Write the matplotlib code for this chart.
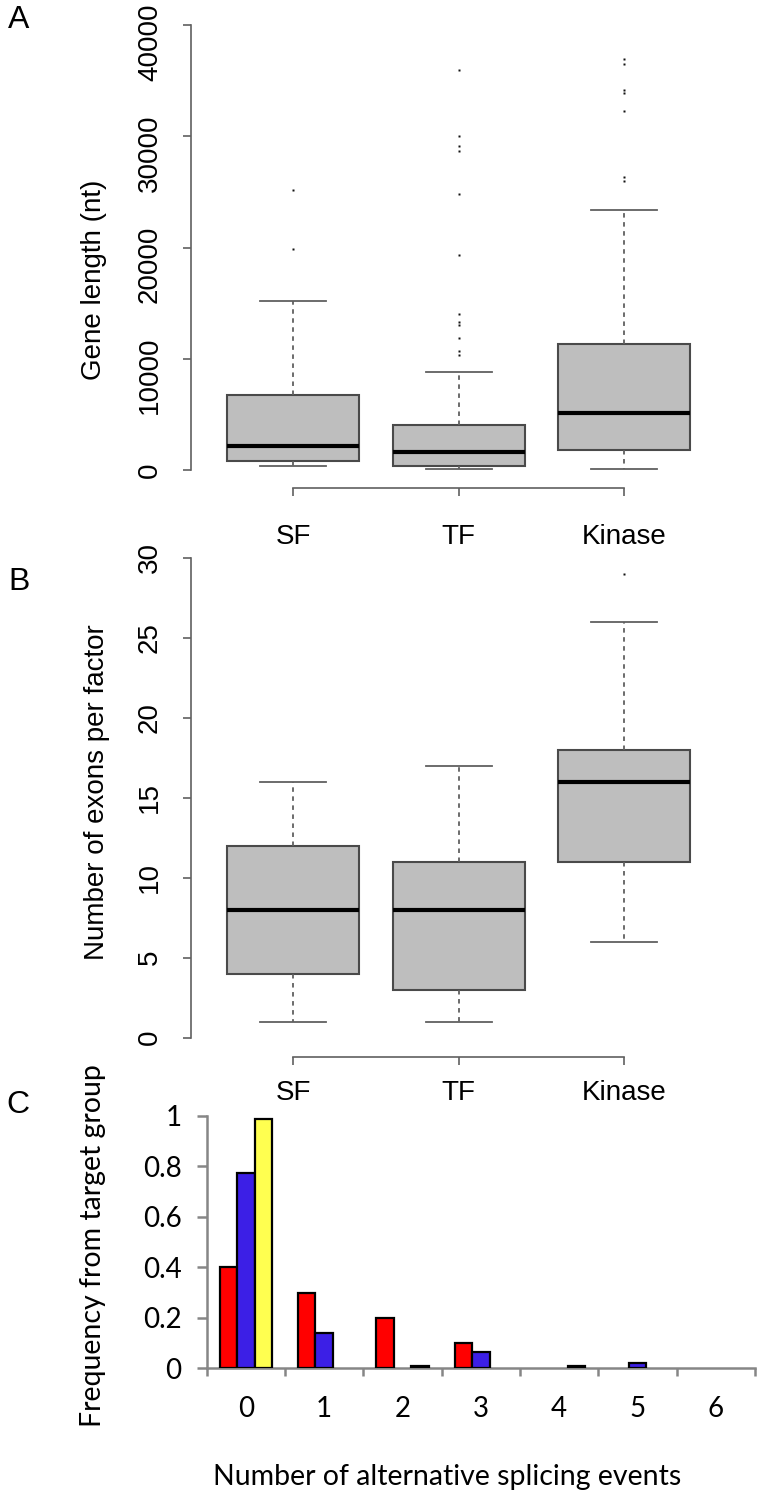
import numpy as np
import matplotlib.pyplot as plt
from matplotlib.transforms import ScaledTranslation

groups = ['SF', 'TF', 'Kinase']

# panel A - gene length (nt)
len_whislo = [360, 60, 90]
len_q1 = [840, 390, 1830]
len_med = [2160, 1650, 5150]
len_q3 = [6740, 4040, 11290]
len_whishi = [15180, 8850, 23400]
len_fliers = [
    [19830, 25140],
    [10330, 10690, 11890, 13050, 13320, 14010, 19290, 24840, 28680, 29160, 30000, 35940],
    [25950, 26340, 32310, 33900, 34200, 36510, 36960],
]
len_ticks = [0, 10000, 20000, 30000, 40000]

# panel B - exons per factor
exon_whislo = [1, 1, 6]
exon_q1 = [4, 3, 11]
exon_med = [8, 8, 16]
exon_q3 = [12, 11, 18]
exon_whishi = [16, 17, 26]
exon_fliers = [[], [], [29]]
exon_ticks = [0, 5, 10, 15, 20, 25, 30]

# panel C - frequency of alternative splicing events
events = [0, 1, 2, 3, 4, 5, 6]
red_freq = [0.40, 0.30, 0.20, 0.10, 0.0, 0.0, 0.0]
blue_freq = [0.775, 0.139, 0.0, 0.066, 0.0, 0.022, 0.0]
yellow_freq = [0.987, 0.0, 0.008, 0.0, 0.008, 0.0, 0.0]
freq_ticks = [0, 0.2, 0.4, 0.6, 0.8, 1.0]
freq_ticklabels = ['0', '0.2', '0.4', '0.6', '0.8', '1']

W, H = 761, 1498
plt.rcParams['font.family'] = ['Liberation Sans', 'DejaVu Sans']
fig = plt.figure(figsize=(W / 100, H / 100), dpi=100)


def px_axes(left, top, right, bottom):
    return fig.add_axes([left / W, 1 - bottom / H, (right - left) / W, (bottom - top) / H])


def boxpanel(ax, whislo, q1, med, q3, whishi, fliers, ticks, ylim, label_pad):
    stats = []
    for i in range(len(groups)):
        stats.append(dict(whislo=whislo[i], q1=q1[i], med=med[i], q3=q3[i],
                          whishi=whishi[i], fliers=fliers[i], label=groups[i]))
    ax.bxp(stats, positions=[1, 2, 3], widths=0.8, capwidths=0.4, patch_artist=True,
           boxprops=dict(facecolor='#bebebe', edgecolor='#4a4a4a', linewidth=1.5),
           medianprops=dict(color='black', linewidth=3),
           whiskerprops=dict(color='#606060', linewidth=1.3, linestyle=(0, (2.5, 2.5))),
           capprops=dict(color='#606060', linewidth=1.3),
           flierprops=dict(marker='s', markersize=1.5, markerfacecolor='#111111',
                           markeredgecolor='none'))
    ax.set_xlim(0.38, 3.62)
    ax.set_ylim(ylim)
    for s in ['top', 'right']:
        ax.spines[s].set_visible(False)
    ax.spines['left'].set_bounds(ticks[0], ticks[-1])
    ax.spines['bottom'].set_bounds(1, 3)
    for s in ['left', 'bottom']:
        ax.spines[s].set_color('#606060')
        ax.spines[s].set_linewidth(1.2)
    ax.set_yticks(ticks)
    ax.set_yticklabels([str(t) for t in ticks], rotation=90, va='center')
    ax.set_xticks([1, 2, 3])
    ax.set_xticklabels(groups)
    ax.tick_params(axis='y', length=6, width=1.2, color='#606060', labelsize=20, pad=14)
    ax.tick_params(axis='x', length=6, width=1.2, color='#606060', labelsize=20, pad=label_pad)
    ax.patch.set_visible(False)


# A
axA = px_axes(190.8, 7.2, 726.5, 487.8)
boxpanel(axA, len_whislo, len_q1, len_med, len_q3, len_whishi, len_fliers,
         len_ticks, (-1600, 41600), 20)
# the long labels sit a little below their ticks in the original
for lab in axA.get_yticklabels()[1:]:
    lab.set_transform(lab.get_transform() + ScaledTranslation(0, -0.17, fig.dpi_scale_trans))
fig.text(94 / W, 1 - 280 / H, 'Gene length (nt)', rotation=90, ha='center', va='center', fontsize=20)

# B
axB = px_axes(190.8, 538.5, 726.5, 1056.9)
boxpanel(axB, exon_whislo, exon_q1, exon_med, exon_q3, exon_whishi, exon_fliers,
         exon_ticks, (-1.2, 31.2), 10.5)
fig.text(97 / W, 1 - 792 / H, 'Number of exons per factor', rotation=90, ha='center', va='center', fontsize=20)

# C
axC = px_axes(206.7, 1116, 755, 1368.3)
x = np.array(events)
bw = 0.2235
for off, vals, col in [(-bw, red_freq, '#ff0000'), (0, blue_freq, '#3c1fe6'), (bw, yellow_freq, '#ffff50')]:
    vals = np.array(vals)
    keep = vals > 0
    axC.bar(x[keep] + off, vals[keep], width=bw, color=col, edgecolor='black', linewidth=1.6, zorder=3)
axC.set_xlim(-0.5, 6.5)
axC.set_ylim(0, 1)
for s in ['top', 'right']:
    axC.spines[s].set_visible(False)
for s in ['left', 'bottom']:
    axC.spines[s].set_color('#868686')
    axC.spines[s].set_linewidth(1.8)
axC.set_yticks(freq_ticks)
axC.set_yticklabels(freq_ticklabels, fontfamily='Lato')
axC.set_xticks(np.arange(-0.5, 7, 1))
axC.set_xticklabels([])
axC.set_xticks(x, minor=True)
axC.set_xticklabels([str(e) for e in events], minor=True, fontfamily='Lato')
axC.tick_params(axis='y', length=7, width=1.8, color='#868686', labelsize=20, pad=11)
axC.tick_params(axis='x', which='major', length=6, width=1.8, color='#868686')
axC.tick_params(axis='x', which='minor', length=0, labelsize=20, pad=20)
fig.text(93 / W, 1 - 1246 / H, 'Frequency from target group', rotation=90, ha='center', va='center',
         fontsize=20.5, fontfamily='Lato')
fig.text(446.7 / W, 1 - 1477 / H, 'Number of alternative splicing events', ha='center', va='center',
         fontsize=20.5, fontfamily='Lato')

# panel letters
for lab, (lx, ly) in zip(['A', 'B', 'C'], [(19, 19.5), (19, 582), (17.5, 1105)]):
    fig.text(lx / W, 1 - ly / H, lab, ha='center', va='center', fontsize=23)

fig.savefig('out.png', dpi=100)
